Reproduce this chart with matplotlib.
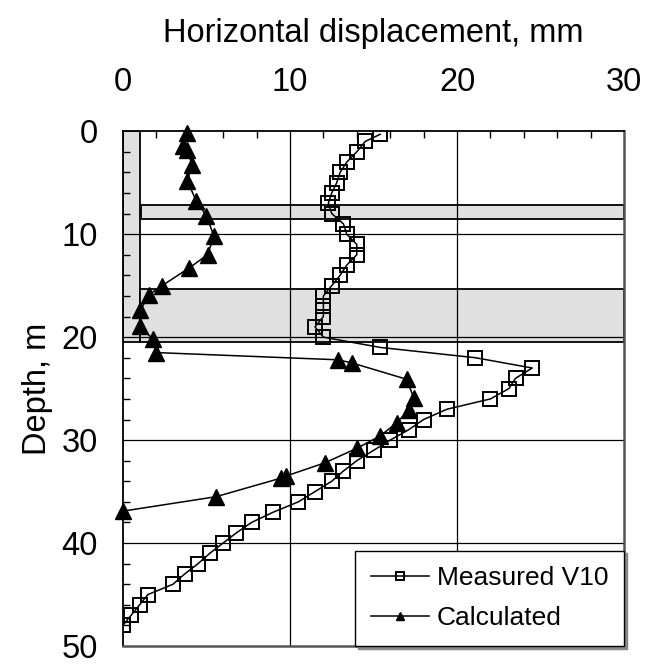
import matplotlib
matplotlib.use("Agg")
import matplotlib.pyplot as plt
from matplotlib.patches import Rectangle
from matplotlib.ticker import MultipleLocator

plt.rcParams['font.family'] = ['Liberation Sans', 'DejaVu Sans']

# ----- DATA -----
meas_depth = [0.3, 1, 2, 3, 4, 5, 6, 7, 8, 9, 10, 11, 12, 13, 14, 15, 16, 17, 18, 19,
              20, 21, 22, 23, 24, 25, 26, 27, 28, 29, 30, 31, 32, 33, 34, 35, 36, 37,
              38, 39, 40, 41, 42, 43, 44, 45, 46, 47, 48]
meas_disp = [15.4, 14.5, 14.0, 13.4, 13.0, 12.8, 12.5, 12.3, 12.5, 13.2, 13.4, 14.0, 14.0,
             13.4, 13.0, 12.5, 12.0, 12.0, 12.0, 11.5, 12.0, 15.4, 21.1, 24.5, 23.5, 23.1,
             22.0, 19.4, 18.0, 17.1, 16.0, 15.0, 14.0, 13.2, 12.5, 11.5, 10.5, 9.0, 7.7,
             6.8, 6.0, 5.2, 4.5, 3.7, 3.0, 1.5, 1.0, 0.5, 0.0]

calc_depth = [0.2, 1.4, 1.8, 3.3, 4.8, 6.8, 8.2, 10.2, 12.0, 13.3, 15.0, 15.9, 17.4, 18.9,
              20.2, 21.5, 22.2, 22.5, 24.1, 25.9, 27.1, 28.3, 29.6, 30.8, 32.2, 33.5,
              33.7, 35.5, 36.9]
calc_disp = [3.85, 3.6, 3.85, 4.15, 3.85, 4.4, 5.0, 5.45, 5.07, 3.95, 2.35, 1.55, 1.05,
             1.0, 1.8, 2.0, 12.85, 13.7, 17.0, 17.4, 17.1, 16.4, 15.4, 14.0, 12.1, 9.75,
             9.45, 5.57, 0.0]

# soil layers (x0, x1, top depth, bottom depth)
layers = [(0, 1, 0, 20.5), (1.1, 30, 7.2, 8.55), (1, 30, 15.3, 20.5)]

# ----- FIGURE -----
fig = plt.figure(figsize=(6.57, 6.66), dpi=100)
ax = fig.add_axes([0.187, 0.030, 0.763, 0.773])

for x0, x1, d0, d1 in layers:
    ax.add_patch(Rectangle((x0, d0), x1 - x0, d1 - d0, facecolor='#e0e0e0',
                           edgecolor='black', linewidth=1.3, zorder=1))

for g in [10, 20]:
    ax.axvline(g, color='black', linewidth=0.9, zorder=2)
for g in [10, 20, 30, 40]:
    ax.axhline(g, color='black', linewidth=0.9, zorder=2)

ax.plot(meas_disp, meas_depth, color='black', linewidth=1.1, marker='s', markersize=10,
        markerfacecolor='none', markeredgecolor='black', markeredgewidth=1.4,
        label='Measured V10', zorder=3)
ax.plot(calc_disp, calc_depth, color='black', linewidth=1.1, marker='^', markersize=11,
        markerfacecolor='black', markeredgecolor='black', label='Calculated', zorder=3,
        clip_on=False)

ax.set_xlim(0, 30)
ax.set_ylim(50, 0)
ax.xaxis.set_major_locator(MultipleLocator(10))
ax.xaxis.set_minor_locator(MultipleLocator(2))
ax.yaxis.set_major_locator(MultipleLocator(10))
ax.yaxis.set_minor_locator(MultipleLocator(2))
ax.xaxis.tick_top()
ax.xaxis.set_label_position('top')
ax.tick_params(axis='x', which='major', direction='in', length=0, labelsize=23.5, pad=24)
ax.tick_params(axis='y', which='major', direction='in', length=0, labelsize=23.5, pad=18)
ax.tick_params(axis='x', which='minor', direction='in', length=5, width=1, top=True, bottom=False)
ax.tick_params(axis='y', which='minor', direction='in', length=5, width=1, left=True, right=False)

ax.set_xlabel('Horizontal displacement, mm', fontsize=23.5, labelpad=18)
ax.set_ylabel('Depth, m', fontsize=23.5, labelpad=6)

for s in ['left', 'top']:
    ax.spines[s].set_linewidth(1.3)
for s in ['right', 'bottom']:
    ax.spines[s].set_linewidth(1.8)
    ax.spines[s].set_color('#555555')

leg = ax.legend(loc='lower right', borderaxespad=0, fontsize=19, fancybox=False,
                markerscale=0.55, handlelength=2.2, handletextpad=0.3,
                labelspacing=0.6, borderpad=0.6, framealpha=1,
                shadow={'color': '#888888', 'alpha': 1})
leg.get_frame().set_edgecolor('black')
leg.get_frame().set_linewidth(1.0)
leg.set_zorder(5)

fig.savefig('out.png', dpi=100)
